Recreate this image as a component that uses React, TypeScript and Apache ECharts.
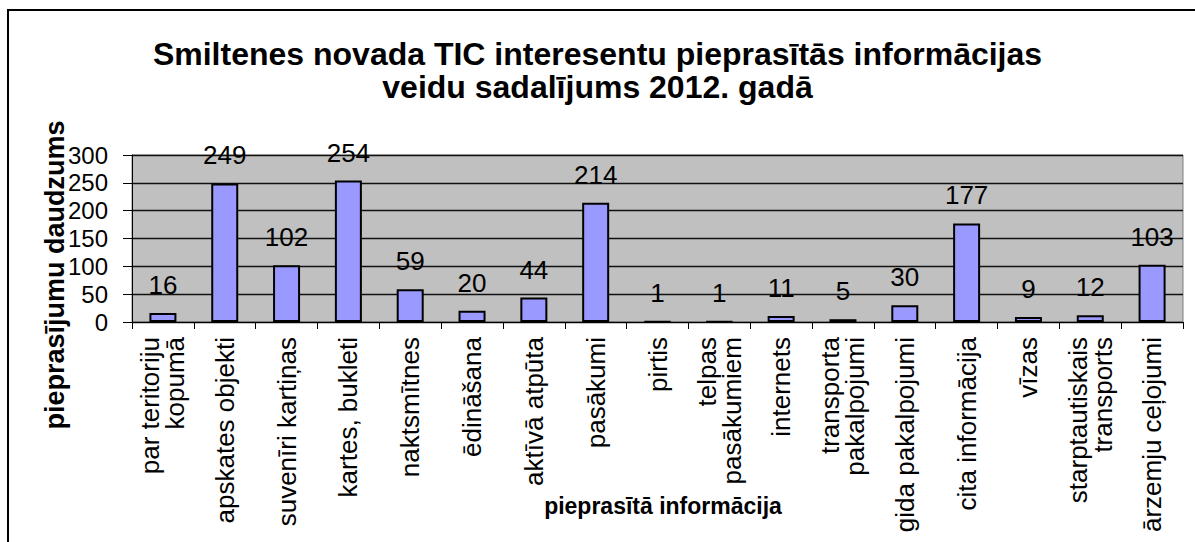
import React, { useEffect, useRef } from "react";
import * as echarts from "echarts";

const categories = [
  "par teritoriju\nkopumā",
  "apskates objekti",
  "suvenīri kartiņas",
  "kartes, bukleti",
  "naktsmītnes",
  "ēdināšana",
  "aktīvā atpūta",
  "pasākumi",
  "pirtis",
  "telpas\npasākumiem",
  "internets",
  "transporta\npakalpojumi",
  "gida pakalpojumi",
  "cita informācija",
  "vīzas",
  "starptautiskais\ntransports",
  "ārzemju ceļojumi",
];
const values = [16, 249, 102, 254, 59, 20, 44, 214, 1, 1, 11, 5, 30, 177, 9, 12, 103];
const titleText = "Smiltenes novada TIC interesentu pieprasītās informācijas\nveidu sadalījums 2012. gadā";
const yAxisName = "pieprasījumu daudzums";
const xAxisName = "pieprasītā informācija";

const FONT = "'Liberation Sans', Arial, sans-serif";

export default function App() {
  const ref = useRef<HTMLDivElement>(null);
  useEffect(() => {
    if (!ref.current) return;
    const chart = echarts.init(ref.current, null, { renderer: "svg" });
    chart.setOption({
      animation: false,
      backgroundColor: "#ffffff",
      textStyle: { fontFamily: FONT },
      title: {
        text: titleText,
        left: "center",
        top: 32,
        textStyle: {
          fontFamily: FONT,
          fontSize: 32,
          fontWeight: "bold",
          color: "#000",
          lineHeight: 33,
        },
      },
      grid: {
        left: 132,
        top: 155,
        right: 12,
        bottom: 220,
        show: true,
        backgroundColor: "#c0c0c0",
        borderColor: "#808080",
        borderWidth: 1,
      },
      xAxis: {
        type: "category",
        data: categories,
        axisLine: { show: true, lineStyle: { color: "#000", width: 1 } },
        axisTick: { show: true, length: 7, lineStyle: { color: "#000" } },
        axisLabel: {
          rotate: 90,
          interval: 0,
          margin: 15,
          fontFamily: FONT,
          fontSize: 26,
          lineHeight: 25,
          color: "#000",
        },
      },
      yAxis: {
        type: "value",
        min: 0,
        max: 300,
        interval: 50,
        axisLine: { show: true, lineStyle: { color: "#000", width: 1 } },
        axisTick: { show: true, length: 9, lineStyle: { color: "#000" } },
        axisLabel: {
          margin: 24,
          fontFamily: FONT,
          fontSize: 24,
          color: "#000",
        },
        splitLine: { show: true, lineStyle: { color: "#111", width: 1.3 } },
      },
      series: [
        {
          type: "bar",
          data: values,
          barWidth: 27,
          itemStyle: { color: "#9999ff", borderColor: "#000", borderWidth: 2 },
          label: {
            show: true,
            position: "top",
            distance: 15,
            fontFamily: FONT,
            fontSize: 26,
            color: "#000",
          },
        },
      ],
      graphic: [
        {
          type: "rect",
          shape: { x: 8, y: 10, width: 1400, height: 800 },
          style: { fill: "none", stroke: "#000", lineWidth: 2 },
          silent: true,
        },
        {
          type: "text",
          x: 55,
          y: 275,
          rotation: Math.PI / 2,
          style: {
            text: yAxisName,
            fontFamily: FONT,
            fontSize: 27,
            fontWeight: "bold",
            fill: "#000",
            align: "center",
            verticalAlign: "middle",
          },
        },
        {
          type: "text",
          x: 663,
          y: 506,
          style: {
            text: xAxisName,
            fontFamily: FONT,
            fontSize: 23,
            fontWeight: "bold",
            fill: "#000",
            align: "center",
            verticalAlign: "middle",
          },
        },
      ],
    });
    return () => chart.dispose();
  }, []);
  return (
    <div
      ref={ref}
      style={{ position: "fixed", left: 0, top: 0, width: 1195, height: 542 }}
    />
  );
}
